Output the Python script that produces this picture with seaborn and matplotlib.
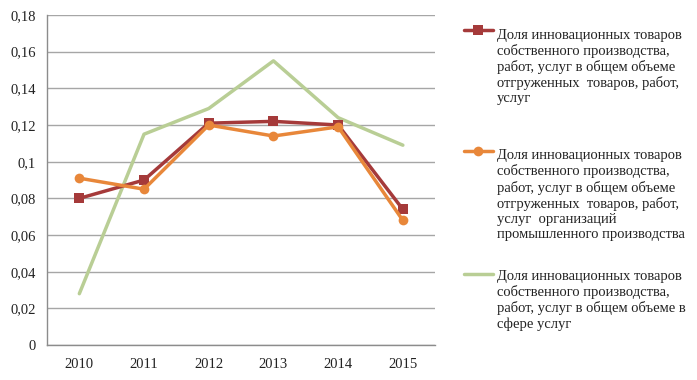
import pandas as pd
import matplotlib
matplotlib.use('Agg')
import matplotlib.pyplot as plt
import matplotlib.ticker as mticker
import seaborn as sns

# Data
years = ['2010', '2011', '2012', '2013', '2014', '2015']
share_total = [0.080, 0.090, 0.121, 0.122, 0.120, 0.074]
share_industry = [0.091, 0.085, 0.120, 0.114, 0.119, 0.068]
share_services = [0.028, 0.115, 0.129, 0.155, 0.124, 0.109]

labels = [
    'Доля инновационных товаров\nсобственного производства,\n'
    'работ, услуг в общем объеме\nотгруженных  товаров, работ,\nуслуг\n ',
    'Доля инновационных товаров\nсобственного производства,\n'
    'работ, услуг в общем объеме\nотгруженных  товаров, работ,\n'
    'услуг  организаций\nпромышленного производства',
    'Доля инновационных товаров\nсобственного производства,\n'
    'работ, услуг в общем объеме в\nсфере услуг',
]
colors = ['#A53A3A', '#E8873A', '#B9CE95']
markers = ['s', 'o', None]

sns.set_style('white')
plt.rcParams['font.family'] = ['Liberation Serif', 'DejaVu Serif']

fig = plt.figure(figsize=(6.97, 3.8), dpi=100)
ax = fig.add_axes([0.0674, 0.092, 0.557, 0.8685])

# draw the green series first so the others sit on top
series = [share_total, share_industry, share_services]
order = [2, 0, 1]
handles = {}
for i in order:
    d = pd.DataFrame({'Год': years, 'Доля': series[i]})
    sns.lineplot(data=d, x='Год', y='Доля', color=colors[i], marker=markers[i],
                 linewidth=2.5, markersize=7, markeredgewidth=0,
                 sort=False, ax=ax, label=labels[i])
    handles[i] = ax.get_lines()[-1]
ax.get_legend().remove()

ax.set_xlim(-0.5, 5.5)
ax.set_ylim(0, 0.18)
ax.set_yticks([0.02 * i for i in range(10)])
ax.yaxis.set_major_formatter(mticker.FuncFormatter(
    lambda v, p: '{:g}'.format(round(v, 2)).replace('.', ',')))
ax.set_xlabel('')
ax.set_ylabel('')
ax.grid(axis='y', color='#A6A6A6', linewidth=1)
ax.set_axisbelow(True)
for s in ['top', 'right']:
    ax.spines[s].set_visible(False)
for s in ['left', 'bottom']:
    ax.spines[s].set_color('#8C8C8C')
    ax.spines[s].set_linewidth(1)

ax.xaxis.set_minor_locator(mticker.FixedLocator([i - 0.5 for i in range(7)]))
ax.tick_params(axis='x', which='major', length=0, labelsize=10.5, pad=9, labelcolor='#222222')
ax.tick_params(axis='x', which='minor', length=5, color='#8C8C8C', direction='out')
ax.tick_params(axis='y', length=4, color='#8C8C8C', direction='out', labelsize=10.5,
               pad=4, labelcolor='#222222')

# legend to the right, handles aligned to the first text line
fs = 10.5
leg = fig.legend([handles[0], handles[1], handles[2]], labels, loc='upper left',
                 bbox_to_anchor=(0.665, 0.925), frameon=False, fontsize=fs,
                 handlelength=2.0, handletextpad=0.3, labelspacing=2.0,
                 borderpad=0, borderaxespad=0)
for h, lab in zip(leg.legend_handles, labels):
    n = lab.count('\n') + 1
    h.set_ydata([y + (n - 1) / 2 * 1.2 * fs for y in h.get_ydata()])
for t in leg.get_texts():
    t.set_color('#222222')

plt.savefig('out.png', dpi=100)
